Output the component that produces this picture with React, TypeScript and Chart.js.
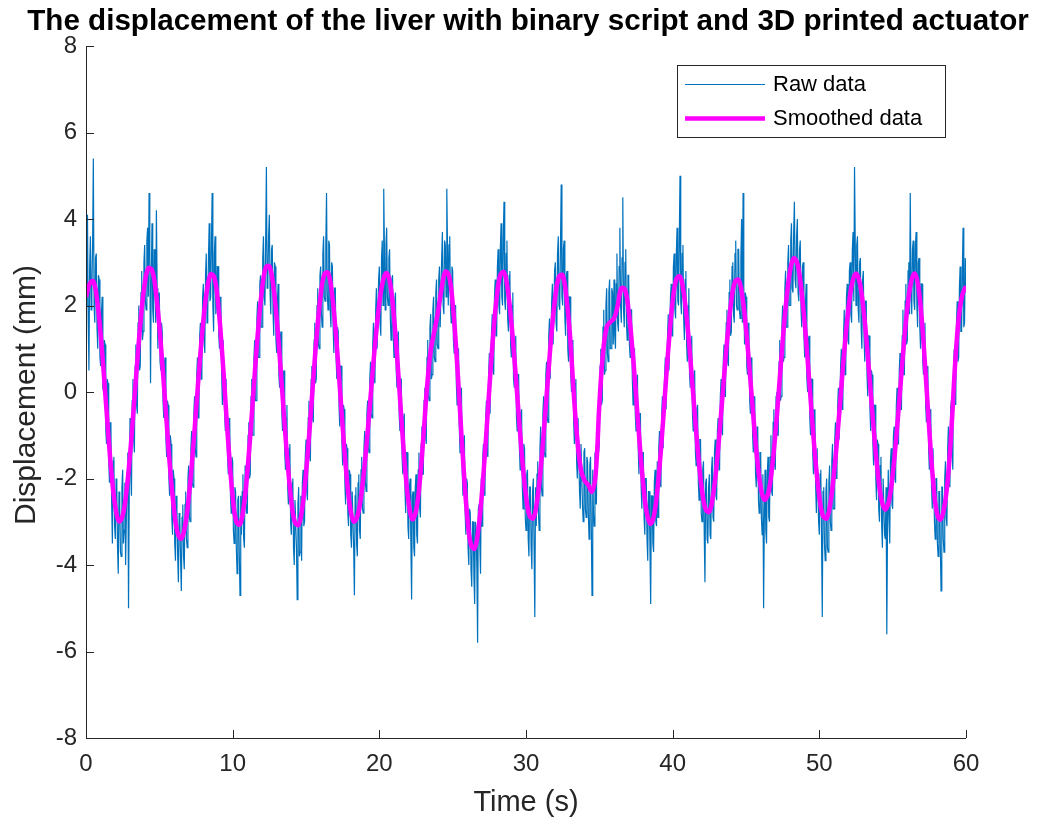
import React, { useEffect, useRef } from "react";
import { Chart, registerables } from "chart.js";

Chart.register(...registerables);

const TITLE = "The displacement of the liver with binary script and 3D printed actuator";
const X_LABEL = "Time (s)";
const Y_LABEL = "Displacement (mm)";
const LEGEND_LABELS = ["Raw data", "Smoothed data"];
const X_TICKS = [0, 10, 20, 30, 40, 50, 60];
const Y_TICKS = [-8, -6, -4, -2, 0, 2, 4, 6, 8];

// sample spacing in seconds
const RAW_STEP = 0.05;
const SMOOTH_STEP = 0.25;

// Raw displacement (mm), one row per second, 0.05 s apart
const rawDisplacement = [
  2.0, 3.1, 4.1, 1.7, 0.5, 2.9, 3.6, 1.9, 2.4, 3.4, 5.4, 2.0, 1.6, 3.1, 3.2, 1.5, 1.0, 2.7, 2.6, 0.8,
  0.6, 1.8, 2.2, 0.1, 0.0, 1.2, 1.1, -0.9, -1.2, 0.3, 0.2, -1.6, -2.1, -0.7, -0.8, -2.6, -3.5, -1.6, -1.5, -3.1,
  -3.4, -2.0, -2.2, -3.6, -4.2, -2.3, -2.6, -3.7, -3.8, -2.2, -1.8, -3.5, -3.2, -2.1, -4.0, -2.9, -2.0, -1.4, -5.0, -2.3,
  -0.6, -1.9, -2.4, -0.2, 0.3, -1.1, -1.4, 0.6, 1.1, -0.3, -0.5, 1.6, 2.0, 0.5, 0.6, 2.3, 2.8, 1.2, 1.4, 3.0,
  3.4, 2.1, 1.9, 3.5, 3.8, 2.2, 4.6, 3.3, 0.2, 2.6, 3.9, 1.9, 1.6, 3.3, 3.1, 1.6, 4.2, 2.4, 1.0, 2.2,
  2.3, 0.7, 0.5, 1.6, 1.4, -0.2, -0.6, 0.7, 0.8, -1.1, -1.5, -0.2, -0.3, -2.0, -2.4, -1.0, -1.2, -2.9, -3.3, -1.8,
  -2.0, -3.5, -3.9, -2.4, -2.7, -3.8, -4.4, -2.8, -3.0, -3.9, -4.6, -2.9, -2.6, -3.8, -4.1, -2.6, -2.3, -3.4, -3.6, -2.0,
  -1.7, -2.9, -3.0, -1.3, -0.9, -2.1, -2.2, -0.5, -0.1, -1.3, -1.5, 0.4, 0.8, -0.6, -0.5, 1.3, 1.6, 0.3, 0.4, 2.2,
  2.5, 1.2, 0.9, 2.7, 3.2, 1.6, 1.8, 3.1, 3.9, 2.1, 2.2, 3.4, 4.6, 2.0, 1.4, 3.2, 3.6, 1.8, 2.0, 2.9,
  2.9, 1.3, 1.0, 2.2, 2.1, 0.4, -0.3, 1.2, 1.2, -0.5, -0.9, 0.3, 0.3, -1.5, -1.9, -0.6, -0.7, -2.4, -2.8, -1.5,
  -1.6, -3.2, -3.5, -2.2, -2.3, -3.6, -4.2, -2.5, -2.4, -3.7, -4.7, -2.4, -3.3, -2.3, -1.9, -3.4, -3.6, -1.7, -2.5, -2.8,
  -2.8, -1.0, -0.7, -2.0, -1.9, -0.1, 0.3, -1.0, -1.0, 0.8, 1.2, -0.2, -0.2, 1.7, 2.1, 0.8, 0.8, 2.5, 2.7, 1.5,
  1.5, 3.1, 3.6, 2.2, 2.0, 3.5, 5.2, 2.4, 2.6, 3.6, 4.1, 2.3, 1.8, 3.3, 3.4, 1.9, 1.3, 3.0, 2.9, 1.2,
  0.9, 2.1, 2.5, 0.4, 0.1, 1.3, 1.4, -0.5, -0.9, 0.4, 0.5, -1.4, -1.8, -0.6, -0.3, -2.2, -2.6, -1.3, -1.2, -3.0,
  -3.3, -2.1, -2.0, -3.6, -4.0, -2.5, -2.5, -3.6, -4.8, -2.6, -2.2, -3.8, -3.7, -2.4, -3.9, -2.1, -1.8, -3.1, -3.0, -1.5,
  -1.1, -2.3, -2.5, -0.6, -0.2, -1.5, -1.6, 0.3, 0.6, -0.6, -0.7, 1.2, 1.6, 0.2, 0.3, 2.0, 2.4, 1.1, 1.0, 2.7,
  2.9, 1.8, 1.5, 3.2, 3.6, 2.2, 2.1, 3.4, 4.6, 2.3, 1.9, 3.5, 3.4, 1.9, 1.5, 3.0, 2.9, 1.5, 0.9, 2.4,
  2.4, 0.8, 0.3, 1.5, 1.4, -0.3, -0.8, 0.6, 0.6, -1.2, -1.7, -0.3, -0.4, -2.1, -2.6, -1.2, -1.3, -2.8, -3.1, -1.8,
  -1.9, -3.3, -3.6, -2.3, -2.3, -3.6, -4.7, -2.4, -2.2, -3.5, -3.8, -2.1, -1.9, -3.2, -3.4, -1.8, -1.5, -2.7, -2.8, -1.3,
  -0.9, -2.1, -2.3, -0.5, -0.2, -1.3, -1.4, 0.3, 0.7, -0.5, -0.6, 1.1, 1.6, 0.3, 0.2, 1.9, 2.4, 1.0, 1.0, 2.6,
  2.9, 1.6, 1.3, 3.1, 3.5, 2.0, 4.7, 3.2, 1.9, 3.4, 3.8, 2.2, 2.0, 3.1, 3.3, 1.7, 1.2, 2.6, 2.7, 1.3,
  0.8, 2.1, 2.3, 0.5, 0.1, 1.3, 1.4, -0.5, -0.9, 0.3, 0.3, -1.5, -1.9, -0.6, -0.5, -2.3, -2.8, -1.4, -1.4, -3.1,
  -3.4, -2.2, -2.0, -3.5, -4.8, -2.4, -2.3, -3.6, -3.8, -2.2, -1.9, -3.3, -3.5, -1.8, -1.4, -2.7, -2.9, -1.2, -0.8, -1.9,
  -1.9, -0.2, 0.1, -1.0, -1.2, 0.8, 1.2, -0.1, -0.2, 1.5, 1.8, 0.3, 0.4, 1.9, 2.2, 0.8, 0.7, 2.3, 2.6, 1.1,
  1.0, 2.6, 2.9, 1.5, 1.5, 3.1, 3.7, 2.0, 1.8, 3.5, 3.4, 2.2, 4.7, 3.3, 2.0, 3.4, 3.6, 2.0, 1.6, 2.9,
  2.8, 1.2, 0.9, 2.0, 2.0, 0.2, -0.3, 1.0, 1.0, -0.8, -1.4, -0.1, 0.1, -1.8, -2.4, -1.1, -1.0, -2.8, -3.3, -2.0,
  -2.1, -3.6, -4.0, -2.7, -2.8, -4.1, -4.5, -3.0, -3.0, -4.3, -4.9, -3.0, -3.2, -4.1, -5.8, -2.7, -2.6, -3.5, -4.2, -2.0,
  -3.1, -1.5, -1.2, -2.3, -2.4, -0.6, -0.2, -1.4, -1.5, 0.4, 0.9, -0.5, -0.5, 1.4, 1.8, 0.5, 0.4, 2.2, 2.6, 1.3,
  1.3, 2.9, 3.3, 2.0, 1.8, 3.3, 3.9, 2.2, 2.0, 3.6, 4.4, 2.1, 1.9, 3.2, 3.5, 1.7, 1.4, 2.7, 2.8, 1.1,
  0.8, 2.0, 2.3, 0.3, 0.1, 1.2, 1.3, -0.6, -0.9, 0.4, 0.4, -1.3, -1.8, -0.5, -0.4, -2.2, -2.7, -1.2, -1.3, -2.9,
  -3.2, -1.9, -1.8, -3.4, -3.8, -2.2, -2.2, -3.6, -4.1, -2.3, -2.0, -3.6, -5.2, -2.2, -3.1, -1.9, -1.6, -2.8, -3.2, -1.3,
  -0.8, -2.2, -2.4, -0.5, -0.1, -1.4, -1.5, 0.4, 0.7, -0.6, -0.7, 1.3, 1.7, 0.3, 0.3, 2.1, 2.5, 1.1, 1.1, 2.8,
  3.0, 1.6, 1.4, 3.2, 3.6, 2.0, 1.9, 3.4, 4.8, 2.2, 2.0, 3.3, 3.5, 1.7, 1.3, 2.7, 2.8, 1.0, 0.7, 2.2,
  2.2, 0.4, 0.0, 1.2, 1.1, -0.7, -1.2, 0.2, 0.3, -1.6, -2.0, -0.6, -0.6, -2.3, -2.7, -1.2, -1.2, -2.6, -3.0, -1.4,
  -1.3, -2.7, -2.9, -1.5, -1.6, -2.8, -3.4, -1.7, -1.5, -3.0, -4.7, -1.8, -2.8, -3.1, -1.4, -2.5, -2.6, -0.9, -0.6, -1.4,
  -1.2, 0.6, 1.0, -0.3, -0.2, 1.5, 1.9, 0.4, 0.5, 2.0, 2.4, 0.9, 0.7, 2.3, 2.6, 1.0, 1.0, 2.4, 2.3, 1.1,
  2.6, 1.3, 1.0, 2.5, 3.2, 1.6, 1.4, 2.9, 3.8, 2.0, 1.6, 3.1, 4.5, 1.9, 1.5, 3.0, 3.3, 1.6, 1.2, 2.7,
  2.7, 1.1, 0.8, 1.9, 1.9, 0.3, -0.3, 1.0, 1.0, -0.5, -0.9, 0.3, 0.4, -1.3, -1.9, -0.5, -0.5, -2.2, -2.7, -1.4,
  -1.4, -2.9, -3.3, -2.0, -2.0, -3.4, -3.9, -2.3, -2.3, -3.6, -4.9, -2.4, -2.4, -3.5, -3.7, -2.1, -1.8, -3.0, -3.1, -1.6,
  -2.9, -1.3, -0.9, -2.1, -2.2, -0.5, -0.1, -1.3, -1.3, 0.4, 0.8, -0.4, -0.4, 1.3, 1.8, 0.5, 0.5, 2.2, 2.5, 1.3,
  1.3, 2.9, 3.2, 1.9, 1.7, 3.2, 3.8, 2.1, 2.0, 3.5, 5.0, 2.1, 1.8, 3.2, 3.4, 1.7, 1.2, 2.6, 2.8, 1.1,
  0.7, 2.0, 2.4, 0.4, 0.1, 1.2, 1.3, -0.5, -0.9, 0.4, 0.5, -1.4, -1.7, -0.4, -0.3, -2.1, -2.5, -1.1, -1.1, -2.8,
  -3.0, -1.8, -1.6, -3.2, -4.4, -2.1, -2.0, -3.4, -3.5, -2.2, -1.9, -3.3, -3.4, -1.8, -1.5, -2.9, -3.0, -1.4, -1.1, -2.4,
  -2.5, -0.9, -0.6, -1.8, -1.8, -0.1, 0.3, -0.9, -1.0, 0.7, 1.1, -0.1, -0.1, 1.6, 1.9, 0.7, 0.6, 2.3, 2.6, 1.3,
  1.4, 2.9, 3.0, 1.8, 1.6, 3.2, 3.5, 2.0, 1.9, 3.3, 3.3, 1.9, 1.7, 3.1, 4.0, 1.6, 4.6, 2.4, 1.1, 2.3,
  2.2, 0.6, 0.4, 1.6, 1.5, -0.2, -0.5, 0.8, 0.7, -1.0, -1.4, -0.1, -0.2, -1.9, -2.2, -0.8, -0.9, -2.5, -2.8, -1.4,
  -1.4, -2.9, -3.3, -1.9, -5.0, -2.9, -1.8, -3.2, -3.5, -1.9, -1.5, -2.9, -3.0, -1.5, -1.0, -2.3, -2.4, -0.7, -0.4, -1.7,
  -1.8, -0.1, 0.0, -1.0, -1.0, 0.7, 1.2, -0.2, -0.1, 1.6, 2.0, 0.7, 0.8, 2.4, 2.8, 1.5, 1.5, 3.0, 3.4, 2.0,
  2.0, 3.5, 3.9, 2.4, 2.3, 3.7, 4.4, 2.6, 2.4, 3.6, 4.0, 2.3, 2.1, 3.3, 3.5, 1.9, 1.5, 2.9, 3.0, 1.3,
  0.8, 2.0, 2.5, 0.3, 0.0, 1.2, 1.3, -0.6, -1.0, 0.3, 0.3, -1.4, -1.9, -0.4, -0.5, -2.2, -2.8, -1.3, -1.3, -3.0,
  -3.3, -1.9, -1.8, -3.4, -5.2, -2.3, -2.2, -3.5, -3.9, -2.3, -2.0, -3.6, -3.7, -2.1, -1.7, -3.0, -3.2, -1.6, -1.2, -2.7,
  -2.7, -1.1, -0.7, -2.0, -1.9, -0.3, 0.1, -1.1, -1.1, 0.6, 1.0, -0.4, -0.3, 1.3, 1.9, 0.4, 0.5, 2.2, 2.5, 1.2,
  1.1, 2.8, 3.0, 1.8, 1.6, 3.3, 3.7, 2.1, 5.2, 3.4, 2.0, 3.4, 3.6, 1.9, 1.6, 3.0, 3.1, 1.5, 1.0, 2.6,
  2.8, 1.2, 0.7, 2.1, 2.1, 0.4, -0.1, 1.3, 1.3, -0.4, -0.9, 0.5, 0.4, -1.2, -1.7, -0.3, -0.3, -2.0, -2.5, -1.1,
  -1.2, -2.7, -3.0, -1.7, -1.5, -3.1, -3.6, -2.0, -2.0, -3.3, -3.4, -2.2, -5.6, -3.1, -1.8, -2.9, -3.5, -1.6, -1.3, -2.6,
  -2.7, -1.0, -0.8, -2.0, -2.1, -0.3, 0.1, -1.2, -1.2, 0.5, 0.9, -0.4, -0.4, 1.3, 1.9, 0.4, 0.4, 2.1, 2.5, 1.1,
  1.2, 2.8, 3.0, 1.8, 4.6, 2.3, 1.8, 3.3, 3.5, 2.1, 1.9, 3.4, 3.7, 2.0, 1.5, 3.0, 3.1, 1.5, 1.0, 2.5,
  2.5, 0.7, 0.4, 1.5, 1.6, -0.3, -0.7, 0.6, 0.5, -1.3, -1.8, -0.4, -0.5, -2.2, -2.7, -1.3, -1.3, -3.0, -3.4, -2.0,
  -2.0, -3.5, -3.8, -2.3, -2.3, -3.6, -4.6, -2.2, -2.2, -3.4, -3.7, -2.0, -1.6, -2.9, -3.1, -1.3, -0.8, -2.1, -2.2, -0.4,
  -0.2, -1.3, -1.8, 0.6, 1.0, -0.2, -0.3, 1.6, 2.1, 0.7, 0.8, 2.4, 2.9, 1.4, 1.4, 2.8, 3.8, 1.5, 1.6, 3.1,
  2.3,
];

// Smoothed displacement (mm), one row per second, 0.25 s apart
const smoothedDisplacement = [
  2.2, 2.5, 2.56, 2.14,
  1.33, 0.26, -0.89, -1.92,
  -2.66, -2.99, -2.86, -2.32,
  -1.46, -0.39, 0.73, 1.74,
  2.49, 2.86, 2.82, 2.35,
  1.52, 0.45, -0.72, -1.83,
  -2.71, -3.26, -3.39, -3.11,
  -2.46, -1.53, -0.44, 0.67,
  1.64, 2.36, 2.72, 2.65,
  2.07, 1.06, -0.18, -1.41,
  -2.42, -3.0, -3.06, -2.66,
  -1.85, -0.78, 0.4, 1.5,
  2.37, 2.87, 2.91, 2.51,
  1.7, 0.63, -0.55, -1.65,
  -2.52, -3.02, -3.07, -2.67,
  -1.88, -0.84, 0.31, 1.39,
  2.24, 2.72, 2.76, 2.33,
  1.49, 0.38, -0.81, -1.88,
  -2.65, -2.99, -2.88, -2.43,
  -1.68, -0.73, 0.29, 1.25,
  2.05, 2.57, 2.75, 2.48,
  1.73, 0.64, -0.6, -1.74,
  -2.57, -2.94, -2.75, -2.1,
  -1.05, 0.1, 0.95, 1.4,
  1.85, 2.4, 2.78, 2.69,
  2.05, 0.94, -0.43, -1.79,
  -2.9, -3.54, -3.62, -3.18,
  -2.32, -1.18, 0.08, 1.26,
  2.18, 2.71, 2.77, 2.38,
  1.62, 0.6, -0.52, -1.58,
  -2.4, -2.87, -2.92, -2.53,
  -1.78, -0.76, 0.34, 1.39,
  2.21, 2.67, 2.7, 2.2,
  1.3, 0.0, -1.1, -1.8,
  -2.05, -2.15, -2.3, -1.9,
  -0.3, 0.9, 1.5, 1.62,
  1.7, 2.0, 2.4, 2.37,
  1.87, 1.01, -0.07, -1.19,
  -2.16, -2.82, -3.05, -2.81,
  -2.12, -1.11, 0.06, 1.19,
  2.09, 2.61, 2.67, 2.3,
  1.57, 0.59, -0.48, -1.49,
  -2.27, -2.72, -2.77, -2.4,
  -1.68, -0.72, 0.34, 1.33,
  2.11, 2.55, 2.59, 2.21,
  1.47, 0.49, -0.56, -1.51,
  -2.19, -2.49, -2.36, -1.83,
  -0.97, 0.08, 1.17, 2.12,
  2.79, 3.09, 2.97, 2.44,
  1.59, 0.53, -0.6, -1.63,
  -2.42, -2.87, -2.92, -2.57,
  -1.88, -0.94, 0.11, 1.13,
  1.98, 2.54, 2.74, 2.53,
  1.94, 1.05, 0.01, -1.03,
  -1.92, -2.51, -2.72, -2.51,
  -1.92, -1.03, 0.01, 1.05,
  1.94, 2.53, 2.74, 2.44,
  1.61, 0.41, -0.89, -2.03,
  -2.77, -2.95, -2.7, -2.05,
  -0.9, 0.6, 1.7, 2.25,
  2.45,
];

const RAW_COLOR = "#0072BD";
const SMOOTH_COLOR = "#FF00FF";
const AXIS_COLOR = "#262626";
const FONT = '"Liberation Sans", Arial, Helvetica, sans-serif';

const W = 1037;
const H = 825;

const overlayPlugin = {
  id: "matlabOverlay",
  afterDraw(chart: any) {
    const { ctx, chartArea: a, scales } = chart;
    const xs = scales.x;
    const ys = scales.y;
    ctx.save();
    // axis lines (box off: left and bottom only)
    ctx.strokeStyle = AXIS_COLOR;
    ctx.lineWidth = 1;
    ctx.beginPath();
    ctx.moveTo(Math.round(a.left) + 0.5, Math.round(a.top));
    ctx.lineTo(Math.round(a.left) + 0.5, Math.round(a.bottom) + 0.5);
    ctx.lineTo(Math.round(a.right), Math.round(a.bottom) + 0.5);
    ctx.stroke();
    // inward tick marks
    ctx.beginPath();
    for (const v of Y_TICKS) {
      const y = Math.round(ys.getPixelForValue(v)) + 0.5;
      ctx.moveTo(a.left, y);
      ctx.lineTo(a.left + 8, y);
    }
    for (const v of X_TICKS) {
      const x = Math.round(xs.getPixelForValue(v)) + 0.5;
      ctx.moveTo(x, a.bottom);
      ctx.lineTo(x, a.bottom - 8);
    }
    ctx.stroke();

    const cx = (a.left + a.right) / 2;
    // title
    ctx.fillStyle = "#000000";
    ctx.font = `bold 29.6px ${FONT}`;
    ctx.textAlign = "center";
    ctx.textBaseline = "alphabetic";
    ctx.fillText(TITLE, cx + 2, 30);

    // x label
    ctx.fillStyle = AXIS_COLOR;
    ctx.font = `29px ${FONT}`;
    ctx.fillText(X_LABEL, cx, 811);

    // y label
    ctx.save();
    ctx.translate(35, (a.top + a.bottom) / 2 + 3);
    ctx.rotate(-Math.PI / 2);
    ctx.font = `30px ${FONT}`;
    ctx.textAlign = "center";
    ctx.textBaseline = "alphabetic";
    ctx.fillText(Y_LABEL, 0, 0);
    ctx.restore();

    // legend
    const bx = 677.5, by = 65.5, bw = 268, bh = 72;
    ctx.fillStyle = "#ffffff";
    ctx.fillRect(bx, by, bw, bh);
    ctx.strokeStyle = AXIS_COLOR;
    ctx.lineWidth = 1;
    ctx.strokeRect(bx, by, bw, bh);
    const rows = [
      { y: 84, color: RAW_COLOR, width: 1.2 },
      { y: 118, color: SMOOTH_COLOR, width: 4.5 },
    ];
    rows.forEach((r, i) => {
      ctx.strokeStyle = r.color;
      ctx.lineWidth = r.width;
      ctx.beginPath();
      ctx.moveTo(685, r.y + 0.5);
      ctx.lineTo(765, r.y + 0.5);
      ctx.stroke();
      ctx.fillStyle = "#000000";
      ctx.font = `22px ${FONT}`;
      ctx.textAlign = "left";
      ctx.textBaseline = "middle";
      ctx.fillText(LEGEND_LABELS[i], 773, r.y + 1);
    });
    ctx.restore();
  },
};

export default function App() {
  const canvasRef = useRef<HTMLCanvasElement | null>(null);

  useEffect(() => {
    const canvas = canvasRef.current;
    if (!canvas) return;
    const rawPoints = rawDisplacement.map((v, i) => ({ x: +(i * RAW_STEP).toFixed(2), y: v }));
    const smoothPoints = smoothedDisplacement.map((v, i) => ({ x: +(i * SMOOTH_STEP).toFixed(2), y: v }));

    const chart = new Chart(canvas, {
      type: "line",
      data: {
        datasets: [
          {
            label: LEGEND_LABELS[0],
            data: rawPoints,
            borderColor: RAW_COLOR,
            borderWidth: 1.2,
            pointRadius: 0,
            tension: 0,
            order: 1,
          },
          {
            label: LEGEND_LABELS[1],
            data: smoothPoints,
            borderColor: SMOOTH_COLOR,
            borderWidth: 4.5,
            pointRadius: 0,
            tension: 0.4,
            order: 0,
          },
        ],
      },
      options: {
        animation: false,
        responsive: false,
        devicePixelRatio: 1,
        layout: { padding: { top: 46, right: 71, left: 0, bottom: 0 } },
        plugins: {
          legend: { display: false },
          title: { display: false },
          tooltip: { enabled: false },
        },
        scales: {
          x: {
            type: "linear",
            min: 0,
            max: 60,
            afterFit: (s: any) => {
              s.height = H - 738;
            },
            afterBuildTicks: (s: any) => {
              s.ticks = X_TICKS.map((v) => ({ value: v }));
            },
            grid: { display: false, drawTicks: false },
            border: { display: false },
            ticks: {
              color: AXIS_COLOR,
              font: { family: FONT, size: 24 },
              padding: 12,
              maxRotation: 0,
            },
          },
          y: {
            type: "linear",
            min: -8,
            max: 8,
            afterFit: (s: any) => {
              s.width = 86;
            },
            afterBuildTicks: (s: any) => {
              s.ticks = Y_TICKS.map((v) => ({ value: v }));
            },
            grid: { display: false, drawTicks: false },
            border: { display: false },
            ticks: {
              color: AXIS_COLOR,
              font: { family: FONT, size: 24 },
              padding: 9,
            },
          },
        },
      },
      plugins: [overlayPlugin],
    });
    return () => chart.destroy();
  }, []);

  return (
    <div style={{ position: "absolute", left: 0, top: 0, width: W, height: H, background: "#ffffff" }}>
      <canvas ref={canvasRef} width={W} height={H} style={{ display: "block" }} />
    </div>
  );
}
